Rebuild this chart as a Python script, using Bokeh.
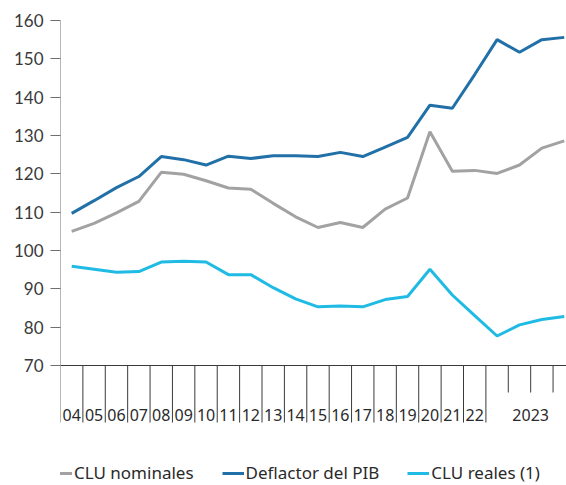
from bokeh.plotting import figure
from bokeh.models import Range1d, FixedTicker, Legend, LegendItem
from bokeh.core.properties import value
from bokeh.embed import file_html
from bokeh.resources import INLINE

# ---- data ----
periods = ["2004", "2005", "2006", "2007", "2008", "2009", "2010", "2011", "2012",
           "2013", "2014", "2015", "2016", "2017", "2018", "2019", "2020", "2021",
           "2022", "2023T1", "2023T2", "2023T3", "2023T4"]
clu_nominales = [105.0, 107.1, 109.8, 112.8, 120.4, 119.9, 118.2, 116.3, 116.0,
                 112.3, 108.8, 106.0, 107.3, 106.0, 110.8, 113.7, 131.0, 120.7,
                 120.9, 120.1, 122.3, 126.7, 128.6]
deflactor_pib = [109.7, 113.0, 116.4, 119.3, 124.5, 123.7, 122.3, 124.6, 124.0,
                 124.7, 124.7, 124.5, 125.6, 124.5, 127.0, 129.5, 137.9, 137.1,
                 145.9, 155.0, 151.7, 155.0, 155.6]
clu_reales = [95.9, 95.1, 94.3, 94.5, 97.0, 97.2, 97.0, 93.7, 93.7,
              90.3, 87.4, 85.3, 85.5, 85.3, 87.2, 88.0, 95.1, 88.4,
              83.0, 77.7, 80.6, 82.0, 82.8]
y_ticks = [70, 80, 90, 100, 110, 120, 130, 140, 150, 160]
series_names = ["CLU nominales", "Deflactor del PIB", "CLU reales (1)"]
series_colors = ["#a2a2a2", "#2270a8", "#20bbe4"]

x = list(range(len(periods)))

# group periods by year for the category axis
years = []
for i, pr in enumerate(periods):
    yr = pr[:4]
    if not years or years[-1][0] != yr:
        years.append([yr, [i]])
    else:
        years[-1][1].append(i)
label_x = [sum(idx) / len(idx) for _, idx in years]
label_text = [yr[2:] if len(idx) == 1 else yr for yr, idx in years]
long_sep = [idx[0] - 0.5 for _, idx in years]
short_sep = [i - 0.5 for _, idx in years for i in idx[1:]]

Y_BASE = y_ticks[0]
LONG_END = 55.13
SHORT_END = 62.96
LABEL_Y = 57.0

p = figure(width=566, height=485,
           x_range=Range1d(-0.5, 22.1), y_range=Range1d(38.7, 160),
           x_axis_type=None,
           output_backend="svg", toolbar_location=None,
           min_border_left=60, min_border_right=0,
           min_border_top=20, min_border_bottom=0)
p.outline_line_color = None
p.grid.visible = False
p.background_fill_color = "white"

yax = p.yaxis[0]
yax.ticker = FixedTicker(ticks=y_ticks)
yax.axis_line_color = None
yax.major_tick_line_color = "#6f6f6f"
yax.major_tick_out = 10
yax.major_tick_in = 0
yax.minor_tick_line_color = None
yax.major_label_standoff = 7
yax.major_label_text_font = "Lato"
yax.major_label_text_font_size = "17px"
yax.major_label_text_color = "#3a3a3a"

# y axis line (continues down as first separator)
p.segment(x0=[-0.5], y0=[LONG_END], x1=[-0.5], y1=[y_ticks[-1]],
          line_color="#6f6f6f", line_width=1)
# x axis base line
p.segment(x0=[-0.5], y0=[Y_BASE], x1=[len(periods) - 0.5], y1=[Y_BASE],
          line_color="#3a3a3a", line_width=1)
# separators
p.segment(x0=long_sep[1:], y0=[Y_BASE] * len(long_sep[1:]),
          x1=long_sep[1:], y1=[LONG_END] * len(long_sep[1:]),
          line_color="#3a3a3a", line_width=1)
p.segment(x0=short_sep, y0=[Y_BASE] * len(short_sep),
          x1=short_sep, y1=[SHORT_END] * len(short_sep),
          line_color="#3a3a3a", line_width=1)
# category labels
p.text(x=label_x, y=[LABEL_Y] * len(label_x), text=label_text,
       text_align="center", text_baseline="middle",
       text_font=value("Noto Sans"), text_font_size="16px", text_color="#2a2a2a")

renderers = []
for vals, col in zip([clu_nominales, deflactor_pib, clu_reales], series_colors):
    r = p.line(x, vals, line_color=col, line_width=3)
    renderers.append(r)

legend = Legend(items=[LegendItem(label=n, renderers=[r]) for n, r in zip(series_names, renderers)],
                orientation="horizontal", location=(-10, 1),
                padding=0, margin=0, spacing=28,
                glyph_width=22, glyph_height=20, label_height=20, label_standoff=2,
                label_text_font="Noto Sans", label_text_font_size="17px",
                label_text_color="#2a2a2a",
                border_line_color=None, background_fill_alpha=0)
p.add_layout(legend)

open("out.html", "w").write(file_html(p, INLINE))
